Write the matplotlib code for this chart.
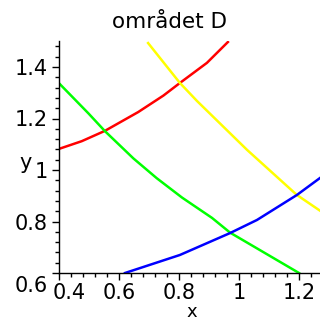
import matplotlib
matplotlib.use("Agg")
import matplotlib.pyplot as plt
import matplotlib.transforms as mtransforms
from matplotlib.ticker import MultipleLocator

title = "området D"
xlabel = "x"
ylabel = "y"

red_x = [0.40, 0.476, 0.553, 0.664, 0.748, 0.803, 0.893, 0.963]
red_y = [1.082, 1.112, 1.152, 1.225, 1.289, 1.338, 1.416, 1.497]

green_x = [0.40, 0.498, 0.553, 0.648, 0.726, 0.81, 0.91, 0.97, 1.20]
green_y = [1.337, 1.22, 1.151, 1.045, 0.968, 0.893, 0.814, 0.757, 0.60]

yellow_x = [0.697, 0.803, 0.86, 1.027, 1.193, 1.27]
yellow_y = [1.493, 1.338, 1.268, 1.078, 0.903, 0.842]

blue_x = [0.62, 0.803, 0.97, 1.06, 1.193, 1.27]
blue_y = [0.60, 0.670, 0.755, 0.806, 0.903, 0.969]

xticks = [0.4, 0.6, 0.8, 1.0, 1.2]
xticklabels = ["0.4", "0.6", "0.8", "1", "1.2"]
yticks = [0.6, 0.8, 1.0, 1.2, 1.4]
yticklabels = ["0.6", "0.8", "1", "1.2", "1.4"]

plt.rcParams['font.family'] = ['DejaVu Sans']
FS = 15

fig = plt.figure(figsize=(3.2, 3.21), dpi=100)
ax = fig.add_axes([59/320, 48/321, 1 - 59/320, (273 - 41.25)/321])

lw = 1.8
ax.plot(red_x, red_y, color='#ff0000', lw=lw)
ax.plot(green_x, green_y, color='#00ff00', lw=lw)
ax.plot(yellow_x, yellow_y, color='#ffff00', lw=lw)
ax.plot(blue_x, blue_y, color='#0000ff', lw=lw)

ax.set_xlim(0.4, 1.27)
ax.set_ylim(0.6, 1.5)

for s in ['top', 'right']:
    ax.spines[s].set_visible(False)
for s in ['left', 'bottom']:
    ax.spines[s].set_linewidth(1.0)
    ax.spines[s].set_color('black')

ax.set_xticks(xticks)
ax.set_xticklabels(xticklabels)
ax.set_yticks(yticks)
ax.set_yticklabels(yticklabels)
ax.xaxis.set_minor_locator(MultipleLocator(0.04))
ax.yaxis.set_minor_locator(MultipleLocator(0.04))
ax.tick_params(axis='both', which='major', direction='out', length=5, width=1,
               labelsize=FS, colors='black')
ax.tick_params(axis='both', which='minor', direction='out', length=3, width=1)
ax.tick_params(axis='x', which='major', pad=2.5)
ax.tick_params(axis='y', which='major', pad=3)

# Maple-style offsets for the labels at the origin corner
for lab in ax.get_yticklabels():
    if lab.get_text() == "0.6":
        lab.set_transform(lab.get_transform() + mtransforms.ScaledTranslation(0, -11/100, fig.dpi_scale_trans))
for lab in ax.get_xticklabels():
    if lab.get_text() == "0.4":
        lab.set_transform(lab.get_transform() + mtransforms.ScaledTranslation(10/100, 0, fig.dpi_scale_trans))

fig.text(170/320, 1 - 22/321, title, ha='center', va='center', fontsize=FS + 0.5)
fig.text(26/320, 1 - 163/321, ylabel, ha='center', va='center', fontsize=FS)
fig.text(192/320, 1 - 317/321, xlabel, ha='center', va='baseline', fontsize=13)

fig.savefig("out.png", dpi=100)
